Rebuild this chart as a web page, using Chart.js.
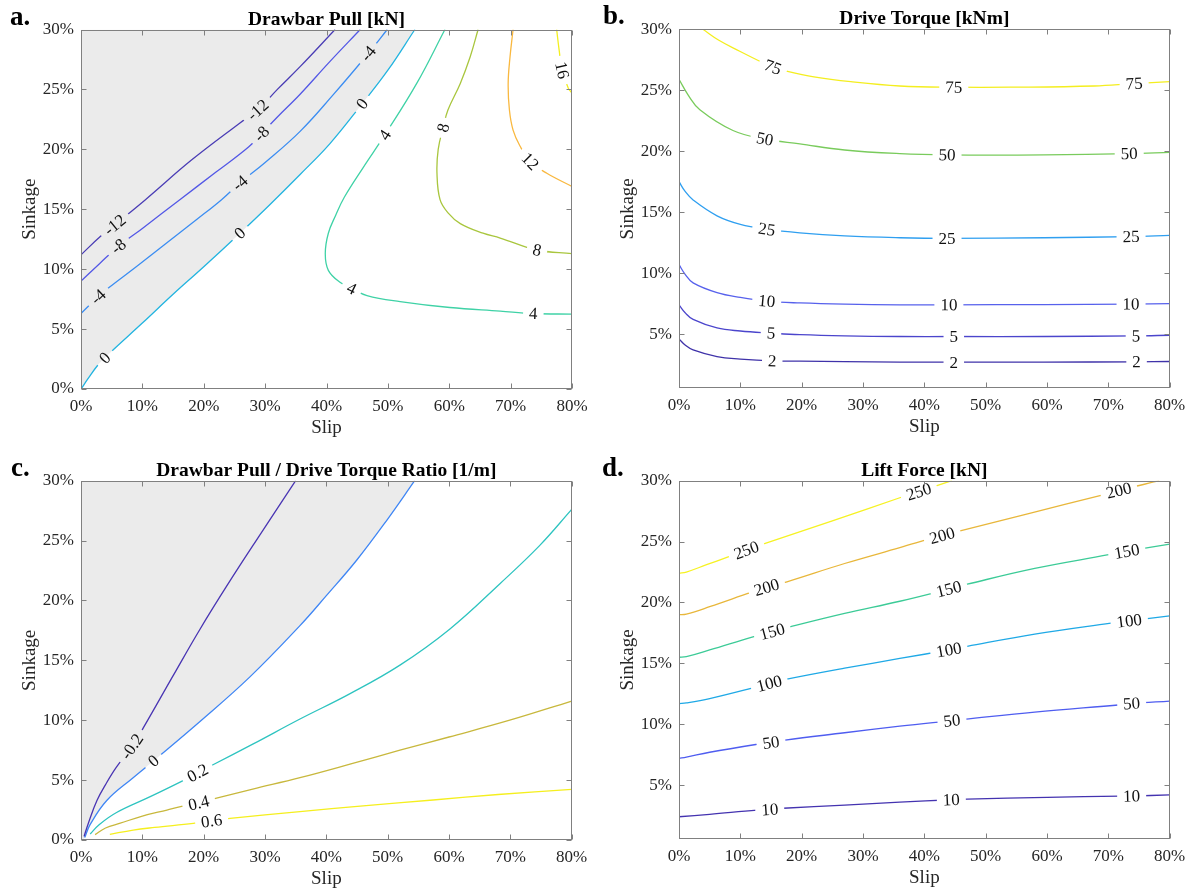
<!DOCTYPE html>
<html>
<head>
<meta charset="utf-8">
<title>Drawbar pull, torque and lift maps</title>
<script src="https://cdn.jsdelivr.net/npm/chart.js@4.4.1/dist/chart.umd.min.js"></script>
<style>
  html, body { margin: 0; padding: 0; background: #fff; }
  #wrap { position: relative; width: 1194px; height: 892px; }
  #wrap canvas { position: absolute; }
</style>
</head>
<body>
<div id="wrap">
  <canvas id="pa" width="597" height="446" style="left:0;top:0"></canvas>
  <canvas id="pb" width="597" height="446" style="left:597px;top:0"></canvas>
  <canvas id="pc" width="597" height="446" style="left:0;top:446px"></canvas>
  <canvas id="pd" width="597" height="446" style="left:597px;top:446px"></canvas>
</div>
<script>
// axes: slip [%] on x, sinkage [%] on y
var xTicks = [0, 10, 20, 30, 40, 50, 60, 70, 80]
var yTicksFull = [0, 5, 10, 15, 20, 25, 30]
var yTicksCut = [5, 10, 15, 20, 25, 30]

// a. drawbar pull [kN] - one polyline (slip, sinkage) per level
var pullLevels = [-12, -8, -4, 0, 4, 8, 12, 16]
var pullLines = [
  [[0,11.2],[3.1,12.7],[5.5,13.7],[10.5,15.8],[18,19.1],[25.9,22.2],[28.8,23.3],[32,25],[35.7,26.9],[41.4,30]],
  [[0,9.0],[3.1,10.5],[6.1,11.9],[10,13.4],[16.1,15.8],[22,18.1],[27.3,20.2],[29.4,21.3],[32,22.7],[35.7,24.6],[40.5,27.3],[45.5,30]],
  [[0,6.3],[2.8,7.7],[4.4,8.4],[9,10.2],[14,12.2],[19,14.2],[22.9,15.8],[25.9,17.2],[30,18.9],[35.7,21.5],[41,24.5],[46.8,28.0],[49.9,30]],
  [[0,0],[1.2,0.9],[2.6,1.9],[3.9,2.6],[5.3,3.3],[10,5.5],[15,7.9],[20,10.2],[25.9,13.0],[30.8,15.4],[35.7,17.9],[40.6,20.5],[45.8,23.8],[50,26.6],[54.4,30]],
  [[59.3,30],[54.7,25.5],[49.5,21.2],[46,18.5],[42.9,16.0],[41.5,14.5],[40.3,13.0],[39.8,11.3],[40.3,9.9],[42.2,8.9],[44.1,8.4],[46.6,7.8],[52,7.3],[60.1,6.8],[68.3,6.5],[73.7,6.3],[80,6.25]],
  [[64.7,30],[63.4,27.7],[61.8,25.5],[59.8,23.3],[59,21.8],[58.2,20],[58,18],[58.5,15.8],[59.8,14.7],[61.8,13.8],[65.5,13],[68.3,12.6],[74.3,11.6],[80,11.3]],
  [[70.4,30],[69.9,27.7],[69.6,25.5],[69.8,23.3],[70.4,21.6],[71.5,20.3],[73.2,19],[75.9,18],[80,16.9]],
  [[77.5,30],[77.9,28.3],[78.4,26.6],[79.4,25.1],[80,24.7]]
]
var pullLabels = [[-12,5.5,13.7],[-12,28.8,23.3],[-8,6.1,11.9],[-8,29.4,21.3],[-4,2.8,7.7],[-4,25.9,17.2],[-4,46.8,28.0],
  [0,3.9,2.6],[0,25.9,13.0],[0,45.8,23.8],[4,49.5,21.2],[4,44.1,8.4],[4,73.7,6.3],[8,59,21.8],[8,74.3,11.6],[12,73.2,19],[16,78.4,26.6]]

// b. drive torque [kNm]
var torqueLevels = [2, 5, 10, 25, 50, 75]
var torqueLines = [
  [[0,4.6],[1,4.1],[2.3,3.7],[6.2,3.15],[10,2.95],[15.2,2.8],[19.7,2.78],[27,2.74],[36,2.7],[44.8,2.7],[59.5,2.7],[74.6,2.72],[80,2.75]],
  [[0,7.4],[1,6.75],[2.3,6.2],[6.2,5.5],[10,5.25],[15,5.08],[19.7,4.95],[27,4.85],[36,4.8],[44.8,4.8],[59.5,4.8],[74.5,4.85],[80,4.9]],
  [[0,10.7],[1,9.9],[2.3,9.2],[6.2,8.4],[10,8.0],[14.3,7.7],[19.7,7.55],[27,7.45],[36,7.4],[44,7.4],[59.5,7.42],[73.7,7.46],[80,7.5]],
  [[0,17.5],[1,16.7],[2.3,16.0],[6.2,14.7],[10,14.0],[14.3,13.6],[19.7,13.3],[27,13.05],[36,12.9],[43.7,12.85],[59.5,12.9],[73.7,13.0],[80,13.1]],
  [[0,25.9],[1.5,24.6],[3.4,23.4],[8.8,21.7],[14,21.0],[19.7,20.6],[27,20.1],[36,19.8],[43.7,19.7],[59.5,19.7],[73.4,19.8],[80,19.9]],
  [[3.9,30],[6.5,29.1],[9.9,28.2],[13.5,27.3],[15.3,26.9],[17.3,26.6],[22,26.1],[28,25.7],[36,25.35],[44.8,25.25],[54.1,25.25],[67.7,25.35],[74.2,25.55],[80,25.7]]
]
var torqueLabels = [[75,15.3,26.9],[75,44.8,25.25],[75,74.2,25.55],[50,14,21.0],[50,43.7,19.7],[50,73.4,19.8],
  [25,14.3,13.6],[25,43.7,12.85],[25,73.7,13.0],[10,14.3,7.7],[10,44,7.4],[10,73.7,7.46],
  [5,15,5.08],[5,44.8,4.8],[5,74.5,4.85],[2,15.2,2.8],[2,44.8,2.7],[2,74.6,2.72]]

// c. drawbar pull / drive torque ratio [1/m]
var ratioLevels = [-0.2, 0, 0.2, 0.4, 0.6]
var ratioLines = [
  [[0.5,0.3],[1.2,1.4],[2.6,3.3],[4.2,4.8],[5.8,6.1],[8.3,7.8],[10.2,9.4],[15,13.7],[19.4,17.6],[24,21.4],[29.2,25.5],[35,30]],
  [[0.6,0.2],[1.5,1.3],[4.2,3.3],[8.5,5.2],[11.8,6.6],[19.4,9.9],[27.5,13.6],[35.7,17.9],[40,20.4],[45,23.4],[50,26.8],[54.4,30]],
  [[1.5,0.5],[3,1.3],[5.8,2.3],[11.2,3.6],[16.4,4.9],[19,5.6],[21.6,6.3],[28,8.0],[35.7,10.1],[43.8,12.2],[52,14.6],[60.1,17.6],[68.3,21.4],[74.8,24.6],[80,27.6]],
  [[2.3,0.45],[4,1.0],[6.4,1.4],[10,2.0],[14,2.5],[16.4,2.8],[19.2,3.1],[22.1,3.5],[28,4.25],[35.7,5.2],[44,6.35],[52,7.5],[60,8.6],[69.9,10.0],[80,11.6]],
  [[4.7,0.47],[8.5,0.83],[12,1.05],[18.3,1.39],[21.3,1.6],[24.3,1.8],[35.7,2.37],[46,2.85],[57.4,3.34],[68,3.8],[80,4.23]]
]
var ratioLabels = [[-0.2,8.3,7.8],[0,11.8,6.6],[0.2,19,5.6],[0.4,19.2,3.1],[0.6,21.3,1.6]]

// d. lift force [kN]
var liftLevels = [10, 50, 100, 150, 200, 250]
var liftLines = [
  [[0,2.4],[5,2.6],[12.7,2.95],[14.8,3.0],[17,3.1],[27,3.35],[36,3.6],[44.4,3.8],[47,3.85],[60,4.0],[72,4.1],[73.8,4.1],[80,4.2]],
  [[0,7.2],[1.2,7.3],[5,7.7],[12.7,8.35],[15,8.5],[17.3,8.7],[27,9.3],[36,9.85],[44.5,10.3],[46.4,10.4],[58,11.0],[72,11.6],[73.8,11.7],[80,11.9]],
  [[0,11.7],[1.2,11.75],[5,12.1],[12.2,13.0],[14.7,13.35],[17.6,13.7],[27,14.6],[36,15.4],[44,16.1],[47,16.4],[58,17.4],[70.4,18.3],[73.4,18.5],[80,18.9]],
  [[0,15.5],[1.2,15.55],[5,16.1],[12.2,17.2],[15.2,17.6],[18.1,18.0],[27,19.1],[36,20.1],[44,21.1],[47,21.5],[58,22.8],[69.8,23.9],[73,24.2],[80,24.8]],
  [[0,19.0],[1.2,19.05],[5,19.65],[11.6,20.8],[14.3,21.25],[17.6,21.7],[27,23.2],[36,24.5],[42.9,25.5],[46,25.9],[57,27.3],[68.8,28.8],[71.7,29.2],[78.3,30]],
  [[0,22.4],[1.2,22.5],[4.5,23.1],[7.8,23.7],[11,24.3],[14.3,24.9],[25,26.7],[36,28.6],[39.1,29.1],[44.5,30]]
]
var liftLabels = [[10,14.8,3.0],[10,44.4,3.8],[10,73.8,4.1],[50,15,8.5],[50,44.5,10.3],[50,73.8,11.7],
  [100,14.7,13.35],[100,44,16.1],[100,73.4,18.5],[150,15.2,17.6],[150,44,21.1],[150,73,24.2],
  [200,14.3,21.25],[200,42.9,25.5],[200,71.7,29.2],[250,11,24.3],[250,39.1,29.1]]

// parula-ish line colours, one per level
var pullColors = ['#4a3db5','#5358e6','#3b8df2','#23b4e0','#3fd2a6','#a9c63e','#f9b83f','#f3ef1f']
var torqueColors = ['#3f32a9','#4b45cc','#5761ec','#2f9ff0','#79cb5c','#f4ee1f']
var ratioColors = ['#4935b3','#3f86f5','#2ec4c0','#c8b83d','#f5ef1e']
var liftColors = ['#4433b0','#4f5df0','#1fa9e6','#3ccb97','#e8b73b','#f6f223']

var INK = '#262626', BOX = '#808080', SHADE = '#ebebeb'
var FONT = "'Liberation Serif', 'Times New Roman', serif"
var LABEL_FONT = '17px ' + FONT

// where a contour label sits: nearest vertex, angle from its neighbours
function labelSpots(chart, ds) {
  if (!ds.tags) return []
  var xs = chart.scales.x, ys = chart.scales.y
  var pts = ds.data.map(function(p){ return [xs.getPixelForValue(p.x), ys.getPixelForValue(p.y)] })
  return ds.tags.map(function(t){
    var px = xs.getPixelForValue(t[0]), py = ys.getPixelForValue(t[1])
    var j = 0, best = Infinity
    pts.forEach(function(q, k){
      var d = (q[0]-px)*(q[0]-px) + (q[1]-py)*(q[1]-py)
      if (d < best) { best = d; j = k }
    })
    var a = pts[Math.max(0, j-1)], b = pts[Math.min(pts.length-1, j+1)]
    var ang = Math.atan2(b[1]-a[1], b[0]-a[0])
    if (ang > Math.PI/2) ang -= Math.PI
    if (ang < -Math.PI/2) ang += Math.PI
    return {x: pts[j][0], y: pts[j][1], a: ang}
  })
}

function makeDecor(cfg) {
  var clipped = false
  return {
    id: 'decor',
    beforeDatasetDraw: function(chart, args) {
      var ds = chart.data.datasets[args.index]
      if (!ds.tags || !ds.tags.length) return
      var ctx = chart.ctx
      ctx.font = LABEL_FONT
      var hw = ctx.measureText(ds.text).width / 2 + 6, hh = 9
      ctx.save()
      ctx.beginPath()
      ctx.rect(0, 0, chart.width, chart.height)
      labelSpots(chart, ds).forEach(function(s){
        var c = Math.cos(s.a), n = Math.sin(s.a)
        ;[[-hw,-hh],[hw,-hh],[hw,hh],[-hw,hh]].forEach(function(d, i){
          var x = s.x + d[0]*c - d[1]*n, y = s.y + d[0]*n + d[1]*c
          if (i === 0) ctx.moveTo(x, y); else ctx.lineTo(x, y)
        })
        ctx.closePath()
      })
      ctx.clip('evenodd')
      clipped = true
    },
    afterDatasetDraw: function(chart) {
      if (clipped) { chart.ctx.restore(); clipped = false }
    },
    afterDatasetsDraw: function(chart) {
      var ctx = chart.ctx
      ctx.save()
      ctx.font = LABEL_FONT
      ctx.fillStyle = '#111'
      ctx.textAlign = 'center'
      ctx.textBaseline = 'middle'
      chart.data.datasets.forEach(function(ds){
        labelSpots(chart, ds).forEach(function(s){
          ctx.save()
          ctx.translate(s.x, s.y)
          ctx.rotate(s.a)
          ctx.fillText(ds.text, 0, 1)
          ctx.restore()
        })
      })
      ctx.restore()
    },
    afterDraw: function(chart) {
      var ctx = chart.ctx, a = chart.chartArea
      var xs = chart.scales.x, ys = chart.scales.y
      var L = Math.round(a.left) + 0.5, T = Math.round(a.top) + 0.5
      var R = Math.round(a.right) - 0.5, B = Math.round(a.bottom) - 0.5
      ctx.save()
      ctx.strokeStyle = BOX
      ctx.lineWidth = 1
      ctx.strokeRect(L, T, R - L, B - T)
      ctx.beginPath()
      xTicks.forEach(function(v){
        var x = Math.round(xs.getPixelForValue(v)) + 0.5
        ctx.moveTo(x, B); ctx.lineTo(x, B - 5)
        ctx.moveTo(x, T); ctx.lineTo(x, T + 5)
      })
      cfg.yTicks.forEach(function(v){
        var y = Math.round(ys.getPixelForValue(v)) + 0.5
        ctx.moveTo(L, y); ctx.lineTo(L + 5, y)
        ctx.moveTo(R, y); ctx.lineTo(R - 5, y)
      })
      ctx.stroke()

      var cx = (a.left + a.right) / 2, cy = (a.top + a.bottom) / 2
      ctx.textBaseline = 'alphabetic'
      ctx.textAlign = 'center'
      ctx.font = 'bold 19.5px ' + FONT
      ctx.fillStyle = '#000'
      ctx.fillText(cfg.title, cx, a.top - 5)
      ctx.textAlign = 'left'
      ctx.font = 'bold 27px ' + FONT
      ctx.fillText(cfg.letter, cfg.letterX, a.top - 5)
      ctx.fillStyle = INK
      ctx.textAlign = 'center'
      ctx.font = '19px ' + FONT
      ctx.fillText('Slip', cx, a.bottom + 43.5)
      ctx.save()
      ctx.translate(a.left - 46, cy)
      ctx.rotate(-Math.PI / 2)
      ctx.fillText('Sinkage', 0, 0)
      ctx.restore()
      ctx.restore()
    }
  }
}

function makePanel(cfg) {
  var datasets = cfg.lines.map(function(pts, i){
    var lvl = cfg.levels[i]
    return {
      data: pts.map(function(p){ return {x: p[0], y: p[1]} }),
      text: String(lvl),
      tags: cfg.labels.filter(function(l){ return l[0] === lvl }).map(function(l){ return [l[1], l[2]] }),
      borderColor: cfg.colors[i],
      borderWidth: 1.3,
      pointRadius: 0,
      tension: 0.4,
      fill: false
    }
  })
  // grey shading on the negative side of the zero contour, closed to the origin
  var zi = cfg.levels.indexOf(0)
  if (cfg.shade && zi >= 0) {
    datasets.push({
      data: [{x: 0, y: 0}].concat(cfg.lines[zi].map(function(p){ return {x: p[0], y: p[1]} })),
      borderWidth: 0,
      borderColor: 'rgba(0,0,0,0)',
      pointRadius: 0,
      tension: 0.4,
      fill: 'end',
      backgroundColor: SHADE
    })
  }
  var tickFont = {family: FONT, size: 17}
  return new Chart(document.getElementById(cfg.id), {
    type: 'line',
    data: {datasets: datasets},
    plugins: [makeDecor(cfg)],
    options: {
      responsive: false,
      animation: false,
      events: [],
      layout: {padding: {top: cfg.top, right: cfg.right, left: 0, bottom: 0}},
      plugins: {
        legend: {display: false},
        tooltip: {enabled: false},
        filler: {drawTime: 'beforeDatasetsDraw'}
      },
      scales: {
        x: {
          type: 'linear', min: 0, max: 80,
          grid: {display: false, drawTicks: false},
          border: {display: false},
          afterBuildTicks: function(s){ s.ticks = xTicks.map(function(v){ return {value: v} }) },
          afterFit: function(s){ s.height = cfg.xh },
          ticks: {padding: 7, color: INK, font: tickFont, maxRotation: 0, autoSkip: false,
                  callback: function(v){ return v + '%' }}
        },
        y: {
          type: 'linear', min: cfg.yMin, max: 30,
          grid: {display: false, drawTicks: false},
          border: {display: false},
          afterBuildTicks: function(s){ s.ticks = cfg.yTicks.map(function(v){ return {value: v} }) },
          afterFit: function(s){ s.width = cfg.yw },
          ticks: {padding: 7, color: INK, font: tickFont, autoSkip: false,
                  callback: function(v){ return v + '%' }}
        }
      }
    }
  })
}

makePanel({id: 'pa', title: 'Drawbar Pull [kN]', letter: 'a.', letterX: 10,
  levels: pullLevels, lines: pullLines, labels: pullLabels, colors: pullColors, shade: true,
  yMin: 0, yTicks: yTicksFull, yw: 81, top: 29.5, right: 25, xh: 57})
makePanel({id: 'pb', title: 'Drive Torque [kNm]', letter: 'b.', letterX: 6,
  levels: torqueLevels, lines: torqueLines, labels: torqueLabels, colors: torqueColors, shade: false,
  yMin: 0.55, yTicks: yTicksCut, yw: 82, top: 29.3, right: 24.3, xh: 57.7})
makePanel({id: 'pc', title: 'Drawbar Pull / Drive Torque Ratio [1/m]', letter: 'c.', letterX: 11,
  levels: ratioLevels, lines: ratioLines, labels: ratioLabels, colors: ratioColors, shade: true,
  yMin: 0, yTicks: yTicksFull, yw: 81, top: 34.7, right: 25.3, xh: 52})
makePanel({id: 'pd', title: 'Lift Force [kN]', letter: 'd.', letterX: 5,
  levels: liftLevels, lines: liftLines, labels: liftLabels, colors: liftColors, shade: false,
  yMin: 0.55, yTicks: yTicksCut, yw: 82, top: 34.7, right: 24.3, xh: 52.7})
</script>
</body>
</html>
